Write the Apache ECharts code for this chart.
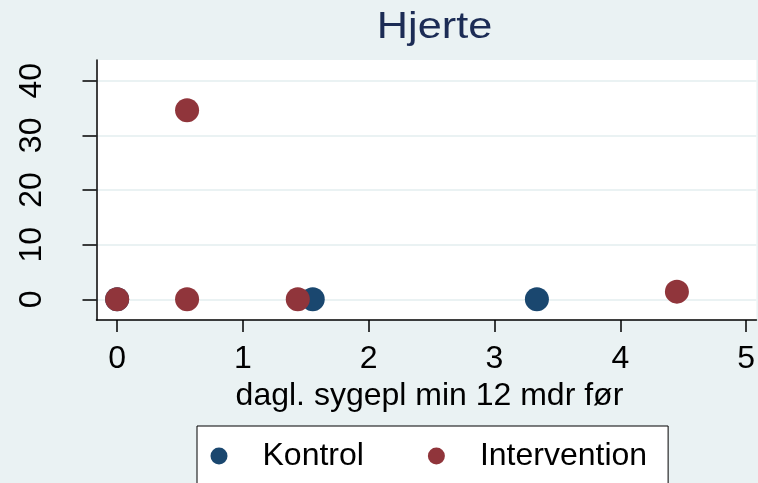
<!DOCTYPE html>
<html>
<head>
<meta charset="utf-8">
<script src="https://cdn.jsdelivr.net/npm/echarts@6/dist/echarts.min.js"></script>
<style>
html,body{margin:0;padding:0;background:#EAF2F3;}
#c{width:758px;height:483px;}
</style>
</head>
<body>
<div id="c"></div>
<script>
const titleText = 'Hjerte';
const xAxisTitle = 'dagl. sygepl min 12 mdr før';
const seriesNames = ['Kontrol', 'Intervention'];
const kontrolX = [0, 1.555, 3.337];
const kontrolY = [0, 0, 0];
const interventionX = [0, 0.556, 0.556, 1.436, 4.45];
const interventionY = [0, 0, 34.6, 0, 1.4];
const xTicks = [0, 1, 2, 3, 4, 5];
const yTicks = [0, 10, 20, 30, 40];

const FONT = '"Liberation Sans", Arial, sans-serif';
const chart = echarts.init(document.getElementById('c'));
const pair = (xs, ys) => xs.map((x, i) => [x, ys[i]]);

chart.setOption({
  backgroundColor: '#EAF2F3',
  animation: false,
  textStyle: { fontFamily: FONT },
  graphic: [{
    type: 'text',
    x: 434.5, y: 28,
    scaleX: 1.17,
    style: { text: titleText, fontSize: 37, fontFamily: FONT, fill: '#1C2C55', align: 'center', verticalAlign: 'middle' }
  }],
  grid: {
    left: 96.5, top: 60, right: 0, height: 260,
    show: true, backgroundColor: '#ffffff', borderWidth: 0,
    containLabel: false
  },
  legend: {
    left: 197, top: 426,
    padding: [14, 21, 14, 13.5],
    backgroundColor: '#ffffff', borderColor: '#000000', borderWidth: 1, borderRadius: 0,
    icon: 'circle', itemWidth: 17, itemHeight: 17, itemGap: 64,
    textStyle: { fontSize: 32, color: '#000', fontFamily: FONT, padding: [0, 0, 0, 30] },
    data: seriesNames
  },
  xAxis: {
    type: 'value', min: -0.164, max: 5.082,
    name: xAxisTitle, nameLocation: 'middle', nameGap: 56,
    nameTextStyle: { fontSize: 32, color: '#000', fontFamily: FONT, padding: [0, 0, 0, 6] },
    axisLine: { show: true, onZero: false, lineStyle: { color: '#000', width: 1.5 } },
    axisTick: { show: true, length: 12, lineStyle: { color: '#000', width: 1.5 }, customValues: xTicks },
    axisLabel: { fontSize: 32, color: '#000', margin: 23, customValues: xTicks },
    splitLine: { show: false }
  },
  yAxis: {
    type: 'value', min: -3.79, max: 43.79,
    axisLine: { show: true, onZero: false, lineStyle: { color: '#000', width: 1.5 } },
    axisTick: { show: true, length: 14, lineStyle: { color: '#000', width: 1.5 }, customValues: yTicks },
    axisLabel: { fontSize: 32, color: '#000', margin: 48, rotate: 90, customValues: yTicks },
    splitLine: { show: true, lineStyle: { color: '#EAF2F3', width: 2 } }
  },
  series: [
    { name: seriesNames[0], type: 'scatter', symbol: 'circle', symbolSize: 24,
      itemStyle: { color: '#1A476F', opacity: 1 }, data: pair(kontrolX, kontrolY) },
    { name: seriesNames[1], type: 'scatter', symbol: 'circle', symbolSize: 24,
      itemStyle: { color: '#90353B', opacity: 1 }, data: pair(interventionX, interventionY) }
  ]
});
</script>
</body>
</html>
